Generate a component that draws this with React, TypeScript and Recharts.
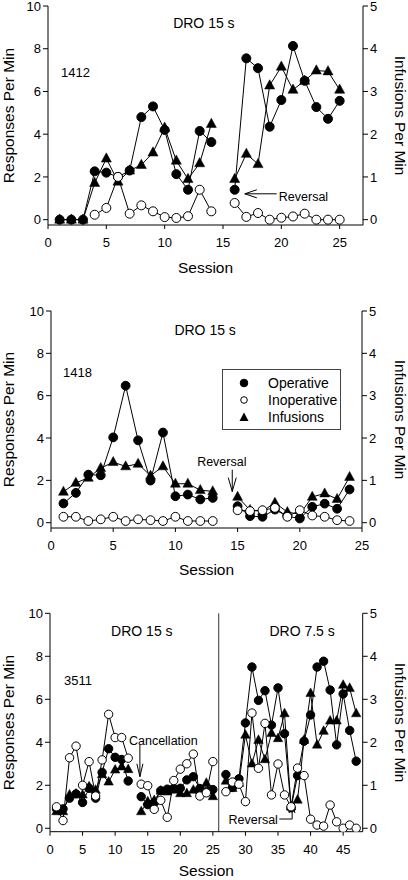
import React from 'react';
import { LineChart, Line, XAxis, YAxis, ReferenceLine, ReferenceDot } from 'recharts';

const FONT = '"Liberation Sans", Arial, Helvetica, sans-serif';
const INK = '#000';

// ---------- Panel 1: subject 1412 ----------
const p1Sessions = [1, 2, 3, 4, 5, 6, 7, 8, 9, 10, 11, 12, 13, 14, 15, 16, 17, 18, 19, 20, 21, 22, 23, 24, 25];
const p1Operative = [0, 0, 0, 2.26, 2.2, 2.0, 2.3, 4.8, 5.3, 4.2, 2.13, 1.4, 4.15, 3.63, null, 1.4, 7.55, 7.09, 4.35, 5.6, 8.13, 6.5, 5.27, 4.72, 5.56];
const p1Inoperative = [null, null, null, 0.23, 0.55, 2.0, 0.28, 0.67, 0.39, 0.12, 0.08, 0.16, 1.4, 0.39, null, 0.78, 0.13, 0.31, 0, 0.09, 0.15, 0.28, 0, 0, 0];
const p1Infusions = [0, 0, 0, 0.86, 1.43, 0.89, 1.15, 1.28, 1.57, 2.15, 1.38, 0.95, 1.32, 2.24, null, 0.95, 1.54, 1.3, 3.14, 3.58, 3.04, 3.25, 3.49, 3.47, 3.04];
const p1XTicks = [0, 5, 10, 15, 20, 25];

// ---------- Panel 2: subject 1418 ----------
const p2Sessions = [1, 2, 3, 4, 5, 6, 7, 8, 9, 10, 11, 12, 13, 14, 15, 16, 17, 18, 19, 20, 21, 22, 23, 24];
const p2Operative = [0.91, 1.41, 2.27, 2.24, 4.03, 6.47, 3.89, 1.99, 4.26, 1.25, 1.33, 1.1, 1.17, null, 0.78, 0.31, 0.28, 0.62, 0.3, 0.2, 0.75, 0.9, 0.66, 1.57];
const p2Inoperative = [0.28, 0.28, 0.08, 0.16, 0.28, 0.08, 0.16, 0.12, 0.08, 0.28, 0.08, 0.08, 0.08, null, 0.59, 0.55, 0.59, 0.7, 0.28, 0.59, 0.34, 0.28, 0.12, 0.08];
const p2Infusions = [0.73, 0.94, 1.06, 1.29, 1.43, 1.33, 1.39, 1.11, 1.33, 0.92, 0.92, 0.77, 0.74, null, 0.61, 0.3, 0.27, 0.47, 0.25, 0.2, 0.61, 0.69, 0.56, 1.08];
const p2XTicks = [0, 5, 10, 15, 20, 25];

// ---------- Panel 3: subject 3511 ----------
const p3Sessions = [1, 2, 3, 4, 5, 6, 7, 8, 9, 10, 11, 12, 13, 14, 15, 16, 17, 18, 19, 20, 21, 22, 23, 24, 25, 26, 27, 28, 29, 30, 31, 32, 33, 34, 35, 36, 37, 38, 39, 40, 41, 42, 43, 44, 45, 46, 47];
const p3Operative = [0.9, 0.9, 1.4, 1.6, 1.2, 1.86, 1.4, 2.6, 3.7, 3.3, 3.2, 2.2, null, 1.47, 1.1, 1.2, 1.75, 1.82, 1.86, 1.86, 2.25, 2.4, 1.85, 1.7, 1.8, null, 2.5, 1.9, 2.3, 4.9, 7.5, 5.95, 6.4, 4.8, 6.53, 4.4, 0.95, 2.45, 4.05, 5.27, 7.5, 7.77, 6.43, 3.88, 6.25, 4.55, 3.12];
const p3Inoperative = [1.0, 0.36, 3.28, 3.82, 2.0, 3.1, 1.5, 3.18, 5.3, 4.22, 4.22, 3.26, null, 2.05, 1.98, 0.88, 1.3, 0.51, 2.22, 2.75, 3.0, 3.45, 1.5, 1.65, 3.1, null, 1.7, 2.15, 2.05, 1.24, 5.36, 2.79, 4.88, 1.55, 2.99, 1.55, 1.0, 2.8, 2.45, 0.42, 0.15, 0.1, 1.08, 0.3, 0, 0.15, 0];
const p3Infusions = [0.39, 0.39, 0.78, 0.8, 0.78, 0.97, 0.89, 1.25, 1.08, 1.36, 1.43, 1.37, null, 0.39, 0.62, 0.65, 0.87, 0.85, 0.89, 0.81, 0.81, 0.89, 0.89, 1.05, 0.74, null, 1.1, 0.93, 1.05, 2.17, 1.5, 2.05, 1.6, 2.21, 2.09, 2.67, 0.5, 0.66, 2.05, 3.14, 1.94, 2.26, 2.5, 2.5, 3.33, 3.26, 2.67];
const p3XTicks = [0, 5, 10, 15, 20, 25, 30, 35, 40, 45];

const leftTicks = [0, 2, 4, 6, 8, 10];
const rightTicks = [0, 1, 2, 3, 4, 5];

type Row = { session: number; operative: number | null; inoperative: number | null; infusions: number | null };

function buildRows(sessions: number[], op: (number | null)[], inop: (number | null)[], inf: (number | null)[]): Row[] {
  return sessions.map((s, i) => ({ session: s, operative: op[i], inoperative: inop[i], infusions: inf[i] }));
}

const p1Rows = buildRows(p1Sessions, p1Operative, p1Inoperative, p1Infusions);
const p2Rows = buildRows(p2Sessions, p2Operative, p2Inoperative, p2Infusions);
const p3Rows = buildRows(p3Sessions, p3Operative, p3Inoperative, p3Infusions);

const makeDot = (kind: 'filled' | 'open' | 'tri', r: number) => (props: any) => {
  const { cx, cy, index, value } = props;
  const key = `${kind}-${index}`;
  if (value == null || !Number.isFinite(cx) || !Number.isFinite(cy)) return <g key={key} />;
  if (kind === 'tri') {
    const w = r * 1.12;
    const h = r * 2.05;
    return (
      <polygon
        key={key}
        points={`${cx},${cy - h * 0.62} ${cx - w},${cy + h * 0.38} ${cx + w},${cy + h * 0.38}`}
        fill={INK}
        stroke={INK}
        strokeWidth={0.5}
      />
    );
  }
  return <circle key={key} cx={cx} cy={cy} r={r} fill={kind === 'filled' ? INK : '#fff'} stroke={INK} strokeWidth={1} />;
};

const AxisTitle = (props: any) => {
  const { tx, ty, rot, text } = props;
  return (
    <text
      x={tx}
      y={ty}
      transform={rot ? `rotate(${rot} ${tx} ${ty})` : undefined}
      textAnchor="middle"
      fontSize={15.5}
      fontFamily={FONT}
      fill={INK}
    >
      {text}
    </text>
  );
};

const tickStyle = { fill: INK, fontSize: 13, fontFamily: FONT };

const textDot = (key: string, x: number, y: number, value: string, size = 13.5) => (
  <ReferenceDot
    key={key}
    yAxisId="left"
    x={x}
    y={y}
    r={0}
    fill="none"
    stroke="none"
    ifOverflow="visible"
    label={{ value, position: 'center', fontSize: size, fill: INK, fontFamily: FONT }}
  />
);

const seg = (key: string, x1: number, y1: number, x2: number, y2: number, color = INK) => (
  <ReferenceLine
    key={key}
    yAxisId="left"
    segment={[{ x: x1, y: y1 }, { x: x2, y: y2 }]}
    stroke={color}
    strokeWidth={1}
    ifOverflow="visible"
  />
);

type PanelProps = {
  top: number;
  height: number;
  marginTop: number;
  marginBottom: number;
  leftW: number;
  rightW: number;
  rows: Row[];
  xDomain: [number, number];
  xTicks: number[];
  leftDomain: [number, number];
  rightDomain: [number, number];
  dotR: number;
  titleGap: number;
  annotations: React.ReactNode[];
};

const W = 408;
const XAXIS_H = 40;

function Panel(p: PanelProps) {
  const plotTop = p.marginTop;
  const plotBottom = p.height - p.marginBottom - XAXIS_H;
  const plotLeft = p.leftW;
  const plotRight = W - p.rightW;
  const midY = (plotTop + plotBottom) / 2;
  const midX = (plotLeft + plotRight) / 2;
  return (
    <div style={{ position: 'absolute', left: 0, top: p.top, width: W, height: p.height }}>
      <LineChart
        width={W}
        height={p.height}
        data={p.rows}
        margin={{ top: p.marginTop, right: 0, bottom: p.marginBottom, left: 0 }}
      >
        <XAxis
          dataKey="session"
          type="number"
          domain={p.xDomain}
          ticks={p.xTicks}
          interval={0}
          allowDataOverflow
          height={XAXIS_H}
          tick={tickStyle}
          tickSize={4}
          tickMargin={9}
          axisLine={{ stroke: INK }}
          tickLine={{ stroke: INK }}
          label={<AxisTitle tx={midX} ty={plotBottom + p.titleGap} text="Session" />}
        />
        <YAxis
          yAxisId="left"
          orientation="left"
          domain={p.leftDomain}
          ticks={leftTicks}
          interval={0}
          allowDataOverflow
          width={p.leftW}
          tick={tickStyle}
          tickSize={5}
          tickMargin={2}
          axisLine={{ stroke: INK }}
          tickLine={{ stroke: INK }}
          label={<AxisTitle tx={13.5} ty={midY} rot={-90} text="Responses Per Min" />}
        />
        <YAxis
          yAxisId="right"
          orientation="right"
          domain={p.rightDomain}
          ticks={rightTicks}
          interval={0}
          allowDataOverflow
          width={p.rightW}
          tick={tickStyle}
          tickSize={5}
          tickMargin={2}
          axisLine={{ stroke: INK }}
          tickLine={{ stroke: INK }}
          label={<AxisTitle tx={395} ty={midY} rot={90} text="Infusions Per Min" />}
        />
        {p.annotations}
        <Line
          yAxisId="right"
          dataKey="infusions"
          type="linear"
          stroke={INK}
          strokeWidth={1}
          dot={makeDot('tri', p.dotR)}
          activeDot={false}
          connectNulls={false}
          isAnimationActive={false}
        />
        <Line
          yAxisId="left"
          dataKey="operative"
          type="linear"
          stroke={INK}
          strokeWidth={1}
          dot={makeDot('filled', p.dotR)}
          activeDot={false}
          connectNulls={false}
          isAnimationActive={false}
        />
        <Line
          yAxisId="left"
          dataKey="inoperative"
          type="linear"
          stroke={INK}
          strokeWidth={1}
          dot={makeDot('open', p.dotR)}
          activeDot={false}
          connectNulls={false}
          isAnimationActive={false}
        />
      </LineChart>
    </div>
  );
}

const p1Annotations = [
  textDot('p1-dro', 13.36, 9.2, 'DRO 15 s', 14),
  textDot('p1-id', 2.35, 6.9, '1412', 13),
  textDot('p1-rev', 21.9, 1.06, 'Reversal', 12.5),
  seg('p1-a0', 16.87, 1.21, 19.6, 1.21),
  seg('p1-a1', 16.87, 1.21, 17.9, 1.4),
  seg('p1-a2', 16.87, 1.21, 17.9, 1.02),
];

const p2Annotations = [
  textDot('p2-dro', 12.39, 9.09, 'DRO 15 s', 14),
  textDot('p2-id', 2.13, 7.1, '1418', 13),
  textDot('p2-rev', 13.73, 2.9, 'Reversal', 12.5),
  seg('p2-a0', 14.57, 2.5, 14.57, 1.47),
  seg('p2-a1', 14.57, 1.47, 14.25, 2.13),
  seg('p2-a2', 14.57, 1.47, 14.89, 2.13),
];

const p3Annotations = [
  <ReferenceLine key="p3-div" yAxisId="left" x={25.9} stroke="#333" strokeWidth={1} />,
  textDot('p3-dro1', 14.1, 9.16, 'DRO 15 s', 14),
  textDot('p3-dro2', 38.7, 9.16, 'DRO 7.5 s', 14),
  textDot('p3-id', 4.3, 6.9, '3511', 13),
  textDot('p3-can', 17.4, 4.1, 'Cancellation', 12.5),
  seg('p3-c0', 13.8, 3.88, 13.8, 2.4),
  seg('p3-c1', 13.8, 2.4, 13.34, 3.0),
  seg('p3-c2', 13.8, 2.4, 14.26, 3.0),
  textDot('p3-rev', 31.2, 0.39, 'Reversal', 12.5),
  seg('p3-r0', 35.2, 0.43, 37.17, 0.43),
  seg('p3-r1', 37.17, 0.43, 37.17, 1.13),
  seg('p3-r2', 37.17, 1.13, 36.7, 0.71),
  seg('p3-r3', 37.17, 1.13, 37.6, 0.71),
];

const legendItems = [
  { label: 'Operative', kind: 'filled' },
  { label: 'Inoperative', kind: 'open' },
  { label: 'Infusions', kind: 'tri' },
];

function LegendBox() {
  return (
    <div
      style={{
        position: 'absolute',
        left: 222,
        top: 369,
        width: 119,
        height: 61,
        border: '1px solid #444',
        boxSizing: 'border-box',
        fontFamily: FONT,
        fontSize: 14,
        color: INK,
        background: '#fff',
      }}
    >
      {legendItems.map((it, i) => (
        <div key={it.label} style={{ position: 'absolute', left: 0, top: 5 + i * 17, height: 17, width: 117 }}>
          <svg width={12} height={12} style={{ position: 'absolute', left: 15, top: 2 }}>
            {it.kind === 'tri' ? (
              <polygon points="6,1.5 1.5,10 10.5,10" fill={INK} />
            ) : (
              <circle cx={6} cy={6} r={it.kind === 'filled' ? 3.8 : 3.3} fill={it.kind === 'filled' ? INK : '#fff'} stroke={INK} strokeWidth={1} />
            )}
          </svg>
          <span style={{ position: 'absolute', left: 45, top: 0, lineHeight: '17px', whiteSpace: 'nowrap' }}>{it.label}</span>
        </div>
      ))}
    </div>
  );
}

export default function App() {
  return (
    <div style={{ position: 'absolute', left: 0, top: 0, width: 408, height: 880, background: '#fff', fontFamily: FONT }}>
      <Panel
        top={0}
        height={280}
        marginTop={6}
        marginBottom={15}
        leftW={48}
        rightW={45}
        rows={p1Rows}
        xDomain={[0, 27]}
        xTicks={p1XTicks}
        leftDomain={[-0.25, 10]}
        rightDomain={[-0.125, 5]}
        dotR={4.5}
        titleGap={47.5}
        annotations={p1Annotations}
      />
      <Panel
        top={290}
        height={295}
        marginTop={21}
        marginBottom={17}
        leftW={51}
        rightW={46}
        rows={p2Rows}
        xDomain={[0, 25]}
        xTicks={p2XTicks}
        leftDomain={[-0.25, 10]}
        rightDomain={[-0.125, 5]}
        dotR={4.4}
        titleGap={47}
        annotations={p2Annotations}
      />
      <Panel
        top={590}
        height={290}
        marginTop={23.3}
        marginBottom={8.3}
        leftW={50}
        rightW={45.3}
        rows={p3Rows}
        xDomain={[0, 48]}
        xTicks={p3XTicks}
        leftDomain={[-0.16, 10]}
        rightDomain={[-0.08, 5]}
        dotR={4.2}
        titleGap={44.5}
        annotations={p3Annotations}
      />
      <LegendBox />
    </div>
  );
}
